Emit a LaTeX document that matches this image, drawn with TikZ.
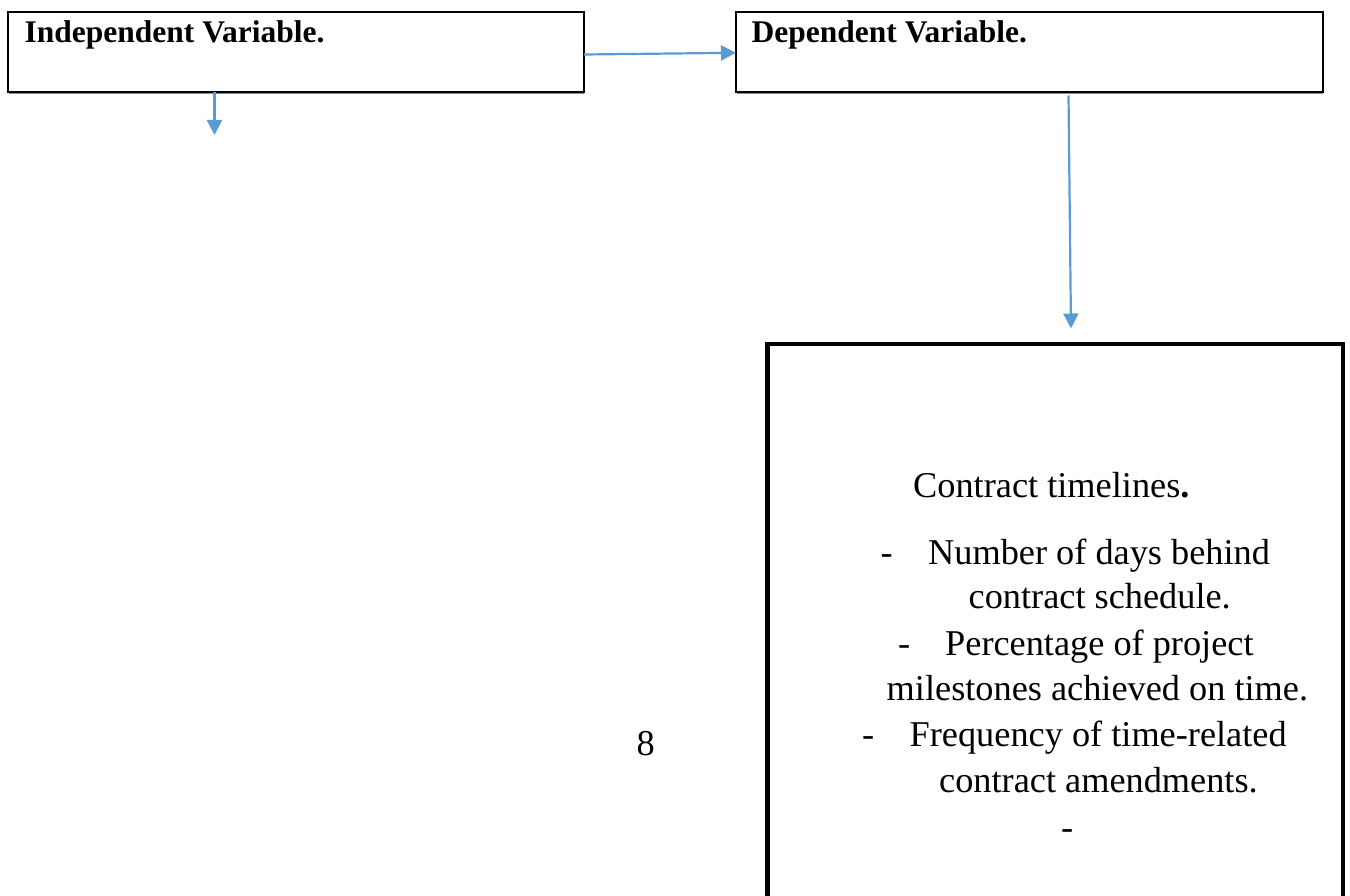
\documentclass[tikz,border=0pt]{standalone}
\usepackage{fontspec}
\setmainfont{Liberation Serif}
\usetikzlibrary{arrows.meta}
\definecolor{arrowblue}{HTML}{5B9BD5}
\tikzset{
  thinbox/.style={draw=black, line width=1.2pt, inner sep=0pt, outer sep=0pt, anchor=north west},
  shadowline/.style={draw=black!45, line width=1.2pt},
  flow/.style={draw=arrowblue, line width=2.2pt, -{Triangle[length=15pt,width=15pt]}},
  titletext/.style={anchor=base west, inner sep=0pt, font=\fontsize{31.5}{36}\selectfont\bfseries},
  bodytext/.style={anchor=base west, inner sep=0pt, font=\fontsize{36.3}{44}\selectfont},
}
\begin{document}
\begin{tikzpicture}[x=1pt,y=-1pt]
\useasboundingbox (0,0) rectangle (1350,896);
\clip (0,0) rectangle (1350,896);
% top boxes
\node[thinbox, minimum width=576pt, minimum height=80pt] (ivbox) at (8,12) {};
\node[thinbox, minimum width=587pt, minimum height=80pt] (dvbox) at (736,12) {};
\draw[shadowline] ([xshift=1pt,yshift=-1.4pt]ivbox.south west) -- ([yshift=-1.4pt]ivbox.south east);
\draw[shadowline] ([xshift=1pt,yshift=-1.4pt]dvbox.south west) -- ([yshift=-1.4pt]dvbox.south east);
\node[titletext] (ivtitle) at (24.5,42.3) {Independent Variable.};
\node[titletext] (dvtitle) at (751.5,42.3) {Dependent Variable.};
% big box
\node[draw=black, line width=4.5pt, inner sep=0pt, outer sep=0pt, anchor=north west, minimum width=575.5pt, minimum height=580pt] (ctbox) at (767.5,344) {};
% body text
\node[bodytext] (t0) at (913,497) {Contract timelines\textbf{.}};
\node[bodytext] (d1) at (880.5,564) {-};
\node[bodytext] (t1) at (928,564) {Number of days behind};
\node[bodytext] (t2) at (968.5,608.5) {contract schedule.};
\node[bodytext] (d2) at (898,655) {-};
\node[bodytext] (t3) at (945,655) {Percentage of project};
\node[bodytext] (t4) at (886.5,700) {milestones achieved on time.};
\node[bodytext] (d3) at (862,746.5) {-};
\node[bodytext] (t5) at (909.5,746.5) {Frequency of time-related};
\node[bodytext] (t6) at (939,792) {contract amendments.};
\node[bodytext] (d4) at (1061,839) {-};
% page number
\node[bodytext] (pnum) at (636.5,755.5) {8};
% connectors
\coordinate (ivdown) at (214.5,135);
\coordinate (dvstart) at (1068.5,95.5);
\coordinate (ctin) at (1071,328.5);
\draw[flow] ([yshift=-2.5pt]ivbox.east) -- ([yshift=-0.8pt]dvbox.west);
\draw[flow] (ivbox.south -| ivdown) -- (ivdown);
\draw[flow] (dvstart) -- (ctin);
\end{tikzpicture}
\end{document}
